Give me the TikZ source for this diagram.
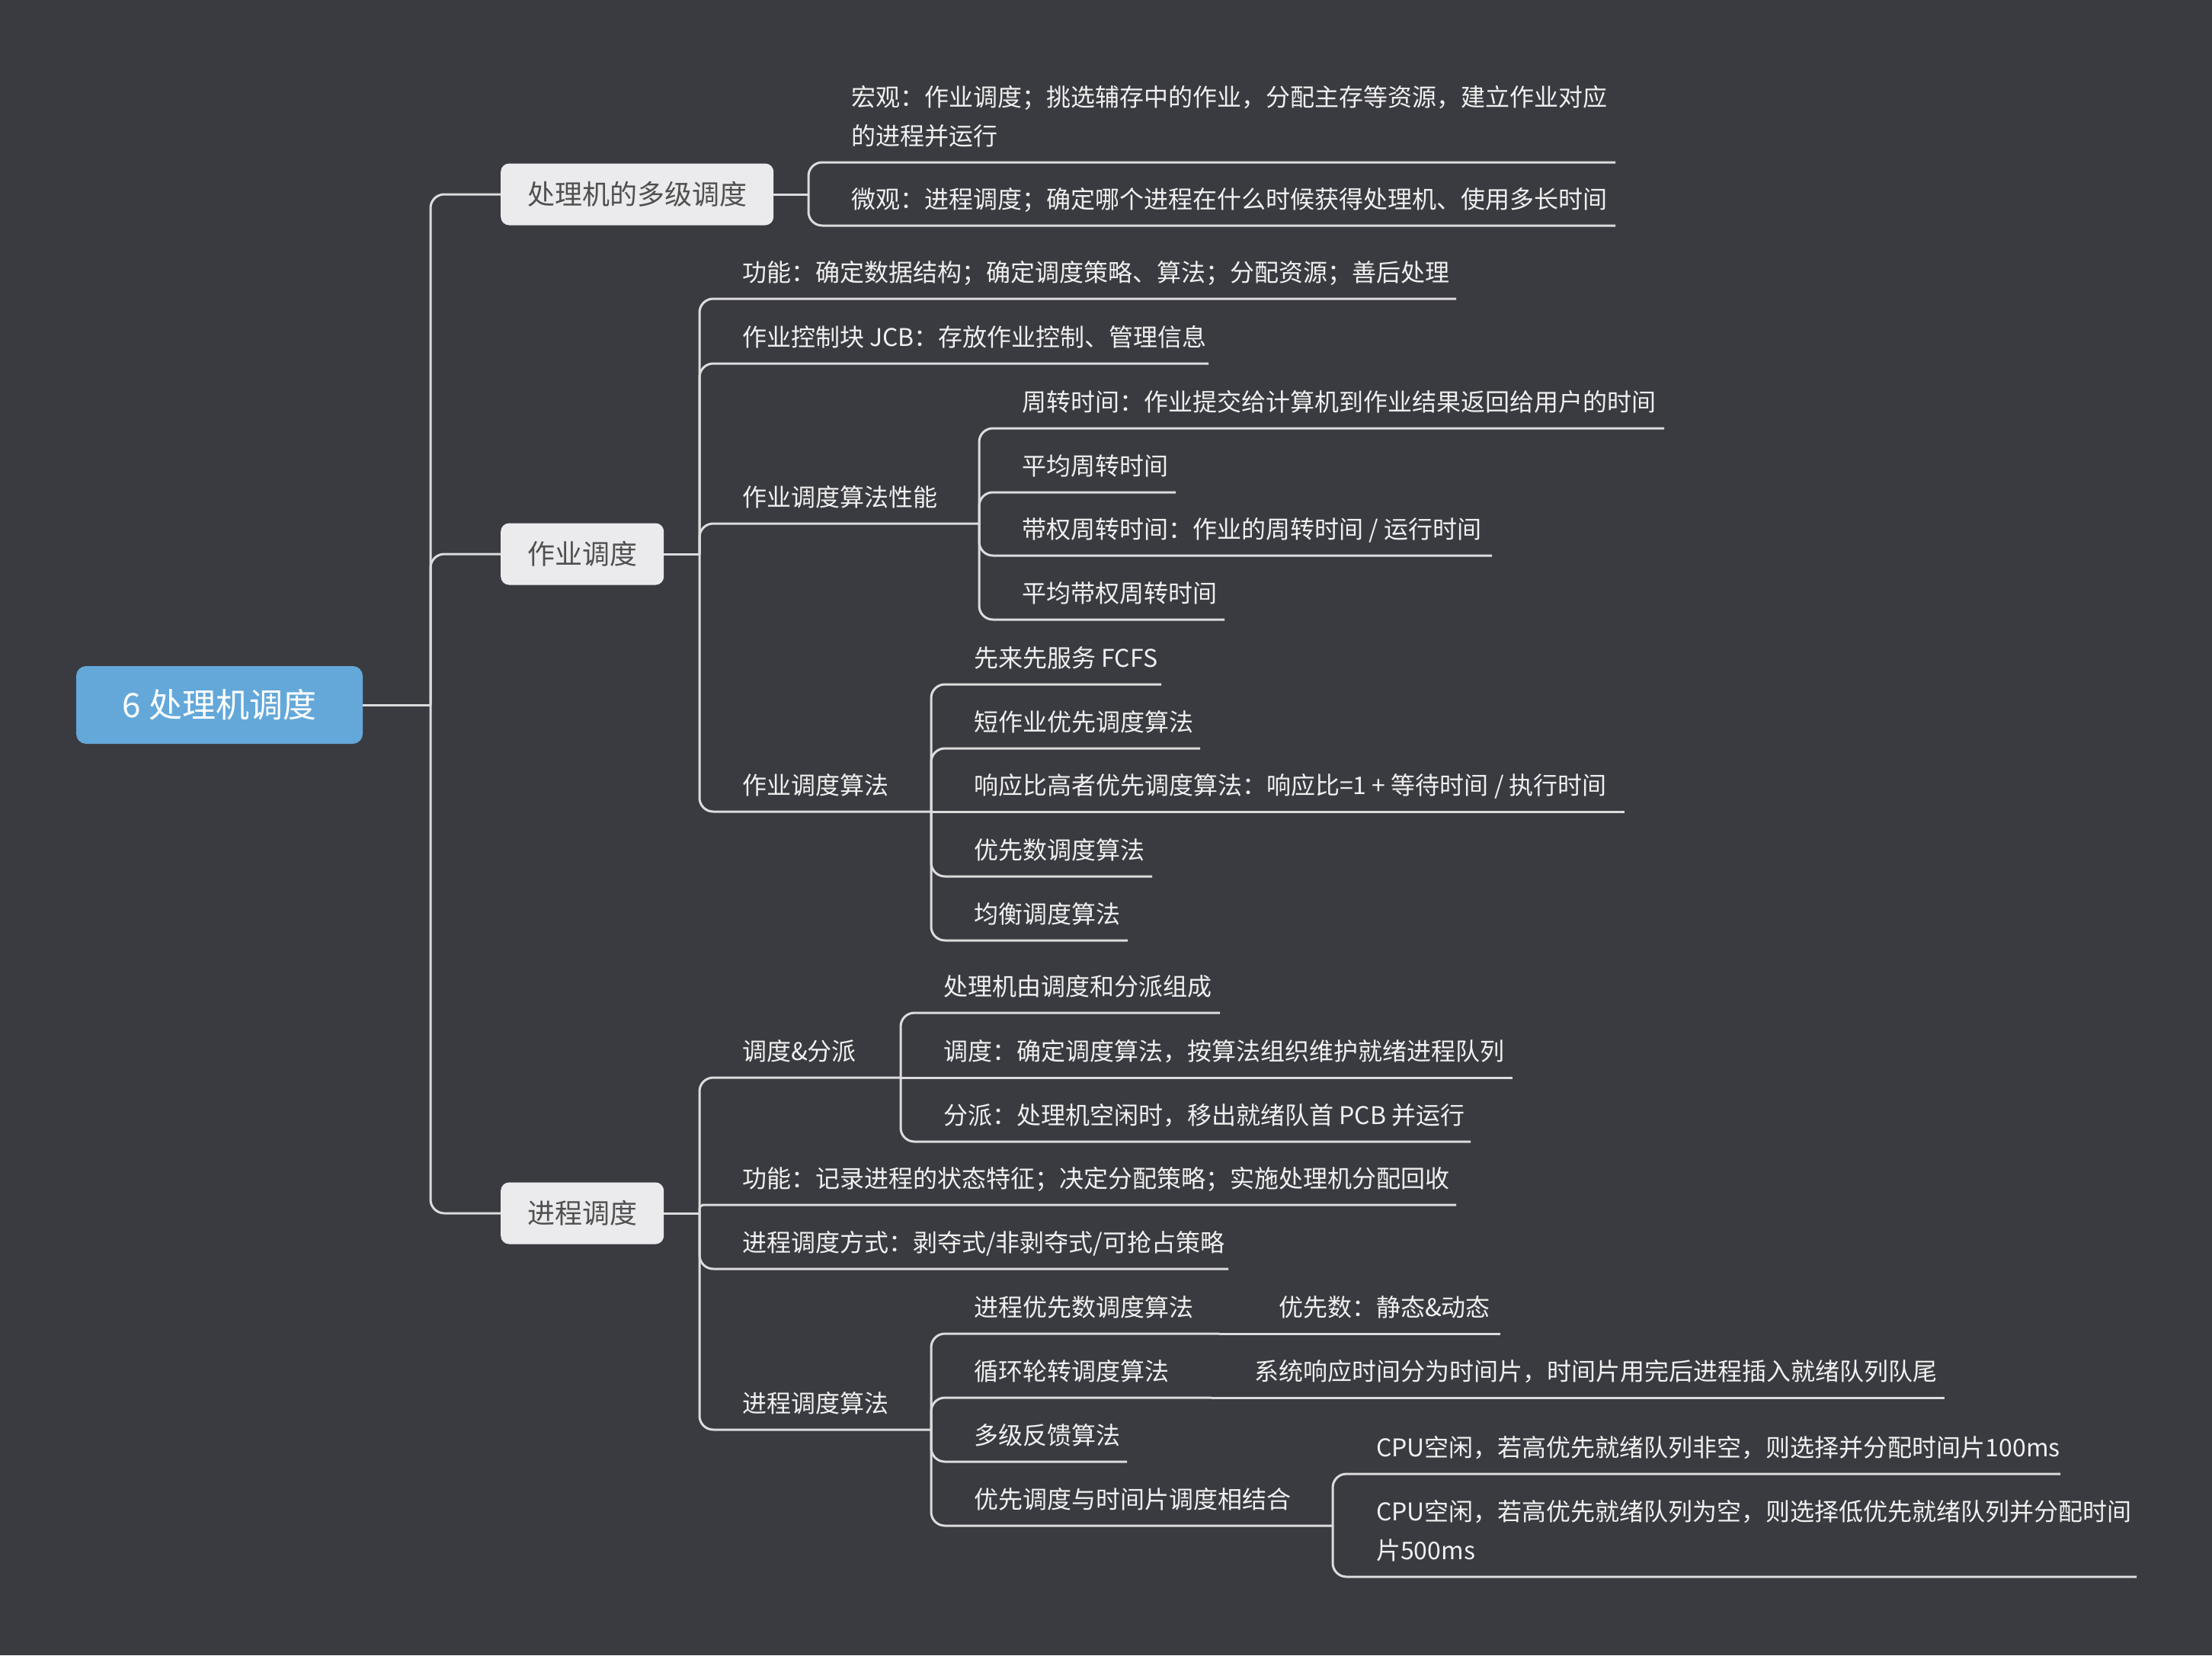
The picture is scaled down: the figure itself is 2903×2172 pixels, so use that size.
\documentclass[tikz,border=0pt]{standalone}
\usepackage{fontspec}
\newfontfamily\cjk{Noto Sans CJK SC}
\usetikzlibrary{calc}

\definecolor{bgc}{HTML}{3A3B40}
\definecolor{linec}{HTML}{DCDCDE}
\definecolor{rootc}{HTML}{64A8DA}
\definecolor{boxc}{HTML}{EBEBED}
\definecolor{boxtext}{HTML}{505050}
\definecolor{leaftext}{HTML}{F0F0F0}

% leaf topic: text sitting on its own underline
% #1 name, #2 text x, #3 underline y, #4 underline end x, #5 text
\newcommand\leafnode[5]{%
  \node[leaf] (#1) at (#2,#3-22) {#5};
  \coordinate (#1-u) at (#4,#3);}

\begin{document}
\begin{tikzpicture}[x=1pt,y=-1pt,
  conn/.style={draw=linec, line width=3pt, rounded corners=18pt},
  rootbox/.style={fill=rootc, rounded corners=13pt, text=white,
    font=\cjk\fontsize{44}{52}\selectfont, minimum width=376pt,
    minimum height=102pt, inner sep=0pt},
  topicbox/.style={fill=boxc, rounded corners=11pt, text=boxtext,
    font=\cjk\fontsize{36}{43}\selectfont, inner xsep=35pt, inner ysep=0pt,
    minimum height=81pt, anchor=west},
  leaf/.style={anchor=south west, inner sep=0pt, text depth=0pt, align=left,
    text=leaftext, font=\cjk\fontsize{32}{51}\selectfont},
]
% canvas
\fill[bgc] (0,0) rectangle (2903,2172);
\useasboundingbox (0,0) rectangle (2903,2172);

% root and main topics
\node[rootbox] (root) at (288,925) {6 处理机调度};
\node[topicbox] (t1) at (657,255) {处理机的多级调度};
\node[topicbox] (t2) at (657,727) {作业调度};
\node[topicbox] (t3) at (657,1592) {进程调度};

\coordinate (J0) at (565,925);
\coordinate (J1) at (1061,255);
\coordinate (J2) at (918,727);
\coordinate (J3) at (918,1592);

% 处理机的多级调度
\leafnode{m1}{1117}{213}{2120}{宏观：作业调度；挑选辅存中的作业，分配主存等资源，建立作业对应\\的进程并运行}
\leafnode{m2}{1117}{296}{2120}{微观：进程调度；确定哪个进程在什么时候获得处理机、使用多长时间}

% 作业调度
\leafnode{a}{974}{392}{1911}{功能：确定数据结构；确定调度策略、算法；分配资源；善后处理}
\leafnode{b}{974}{477}{1586}{作业控制块 JCB：存放作业控制、管理信息}
\leafnode{c}{974}{687}{1285}{作业调度算法性能}
\leafnode{d}{974}{1065}{1222}{作业调度算法}

\leafnode{c1}{1341}{562}{2184}{周转时间：作业提交给计算机到作业结果返回给用户的时间}
\leafnode{c2}{1341}{646}{1543}{平均周转时间}
\leafnode{c3}{1341}{729}{1958}{带权周转时间：作业的周转时间 / 运行时间}
\leafnode{c4}{1341}{813}{1607}{平均带权周转时间}

\leafnode{d1}{1278}{898}{1524}{先来先服务 FCFS}
\leafnode{d2}{1278}{982}{1575}{短作业优先调度算法}
\leafnode{d3}{1278}{1065}{2132}{响应比高者优先调度算法：响应比=1 + 等待时间 / 执行时间}
\leafnode{d4}{1278}{1150}{1512}{优先数调度算法}
\leafnode{d5}{1278}{1234}{1480}{均衡调度算法}

% 进程调度
\leafnode{e}{974}{1414}{1182}{调度\&分派}
\leafnode{f}{974}{1581}{1911}{功能：记录进程的状态特征；决定分配策略；实施处理机分配回收}
\leafnode{g}{974}{1665}{1612}{进程调度方式：剥夺式/非剥夺式/可抢占策略}
\leafnode{h}{974}{1876}{1222}{进程调度算法}

\leafnode{e1}{1238}{1329}{1601}{处理机由调度和分派组成}
\leafnode{e2}{1238}{1414}{1985}{调度：确定调度算法，按算法组织维护就绪进程队列}
\leafnode{e3}{1238}{1498}{1930}{分派：处理机空闲时，移出就绪队首 PCB 并运行}

\leafnode{h1}{1278}{1750}{1600}{进程优先数调度算法}
\leafnode{h1c}{1678}{1750}{1969}{优先数：静态\&动态}
\leafnode{h2}{1278}{1834}{1590}{循环轮转调度算法}
\leafnode{h2c}{1646}{1834}{2552}{系统响应时间分为时间片，时间片用完后进程插入就绪队列队尾}
\leafnode{h3}{1278}{1918}{1479}{多级反馈算法}
\leafnode{h4}{1278}{2002}{1749}{优先调度与时间片调度相结合}

\leafnode{h4a}{1806}{1934}{2704}{CPU空闲，若高优先就绪队列非空，则选择并分配时间片100ms}
\leafnode{h4b}{1806}{2069}{2804}{CPU空闲，若高优先就绪队列为空，则选择低优先就绪队列并分配时间\\片500ms}

% connectors
\draw[conn] (root.east) -- (J0);
\foreach \t in {t1,t2,t3} \draw[conn] (J0) |- (\t.west);

\draw[conn] (t1.east) -- (J1);
\foreach \n in {m1,m2} \draw[conn] (J1) |- (\n-u);

\draw[conn] (t2.east) -- (J2);
\foreach \n in {a,b,c,d} \draw[conn] (J2) |- (\n-u);
\foreach \n in {c1,c2,c3,c4} \draw[conn] (c-u) |- (\n-u);
\foreach \n in {d1,d2,d4,d5} \draw[conn] (d-u) |- (\n-u);
\draw[conn] (d-u) -- (d3-u);

\draw[conn] (t3.east) -- (J3);
\foreach \n in {e,g,h} \draw[conn] (J3) |- (\n-u);
\draw[conn, rounded corners=5pt] (J3) |- (f-u);
\foreach \n in {e1,e3} \draw[conn] (e-u) |- (\n-u);
\draw[conn] (e-u) -- (e2-u);
\foreach \n in {h1,h2,h3,h4} \draw[conn] (h-u) |- (\n-u);
\draw[conn] (h1-u) -- (h1c-u);
\draw[conn] (h2-u) -- (h2c-u);
\foreach \n in {h4a,h4b} \draw[conn] (h4-u) |- (\n-u);
\end{tikzpicture}
\end{document}
